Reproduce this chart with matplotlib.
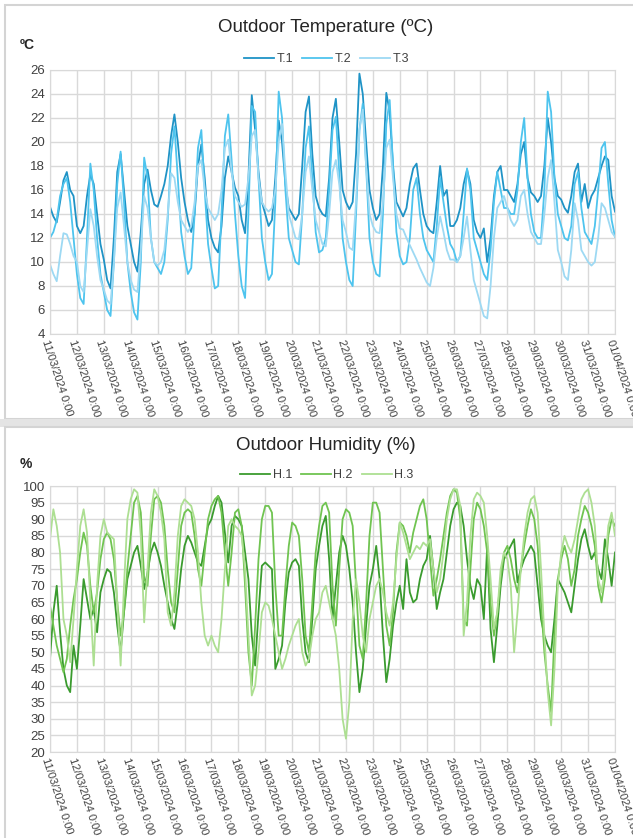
import matplotlib
matplotlib.use("Agg")
import matplotlib.pyplot as plt
import matplotlib.dates as mdates
from matplotlib.patches import Rectangle
from matplotlib.ticker import FuncFormatter
import pandas as pd

plt.rcParams['font.family'] = ['Liberation Sans', 'DejaVu Sans']

# 3-hourly readings, 11/03/2024 0:00 -> 01/04/2024 0:00
times = pd.date_range('2024-03-11 00:00', periods=169, freq='3h')

t1 = [14.6, 13.8, 13.3, 15.0, 16.8, 17.5, 16.0, 15.5,
      13.0, 12.4, 13.0, 15.5, 17.3, 16.5, 14.0, 11.5,
      10.2, 8.5, 7.8, 12.0, 17.5, 19.0, 16.0, 13.0,
      11.5, 10.0, 9.2, 12.5, 16.5, 17.7, 16.0, 14.8,
      14.6, 15.5, 16.5, 18.0, 20.5, 22.3, 20.0, 17.0,
      15.0, 13.5, 12.5, 14.0, 18.0, 19.8, 17.0, 13.5,
      12.0, 11.2, 10.8, 13.0, 17.0, 18.8, 17.5, 16.2,
      15.5, 13.5, 12.4, 17.0, 23.9, 21.0, 17.5, 15.0,
      14.0, 13.0, 13.5, 17.0, 21.8, 20.0, 16.5, 14.5,
      14.0, 13.5, 14.0, 18.0, 22.5, 23.8, 19.0, 15.5,
      14.5, 14.0, 13.8, 17.0, 22.0, 23.6, 20.0, 16.0,
      15.0, 14.4, 15.0, 19.0, 25.7, 24.0, 20.0, 16.0,
      14.5, 13.5, 14.0, 18.0, 24.1, 22.5, 18.0, 15.0,
      14.4, 13.8, 14.5, 16.5, 17.8, 18.2, 16.0, 14.0,
      13.0, 12.6, 12.4, 15.0, 18.0, 15.5, 16.0, 13.0,
      13.0, 13.5, 14.5, 16.5, 17.7, 16.5, 13.5, 12.5,
      12.0, 12.8, 10.0, 12.0, 15.5, 17.5, 18.0, 16.0,
      16.0, 15.5, 15.0, 16.5, 19.0, 20.0, 17.0, 15.8,
      15.5, 15.0, 15.5, 18.0, 22.0, 20.0, 17.0, 15.5,
      15.2, 14.5, 14.1, 15.5, 17.5, 18.2, 15.0, 16.5,
      14.5, 15.5, 16.0, 17.0, 18.0, 18.8, 18.5, 15.5,
      14.2]

t2 = [12.0, 12.5, 13.5, 15.5, 16.5, 17.0, 15.0, 12.0,
      9.0, 7.0, 6.5, 12.0, 18.2, 16.0, 12.0, 9.0,
      7.5, 6.0, 5.5, 10.0, 16.5, 19.2, 15.0, 10.0,
      7.5, 5.8, 5.2, 10.0, 18.7, 17.0, 12.0, 10.0,
      9.5, 9.0, 10.0, 13.5, 19.0, 21.3, 17.0, 12.5,
      10.5, 9.0, 9.5, 14.0, 19.5, 21.0, 16.0, 11.5,
      9.5, 7.8, 8.0, 14.0, 20.5, 22.3, 18.5, 14.0,
      10.5, 8.0, 7.0, 14.0, 23.0, 22.5, 17.0, 12.0,
      10.0, 8.5, 9.0, 15.0, 24.2, 22.0, 16.0, 12.0,
      11.0, 10.0, 9.8, 14.0, 19.5, 21.3, 17.0, 12.5,
      10.8, 11.0, 12.0, 16.0, 21.0, 22.1, 17.5, 12.0,
      10.0, 8.5, 8.0, 14.0, 21.0, 23.2, 18.0, 12.0,
      10.0, 9.0, 8.8, 14.0, 21.5, 23.5, 18.0, 12.5,
      10.5, 9.8, 10.0, 12.0, 16.0, 17.0, 14.0, 12.0,
      11.0, 10.5, 10.0, 13.0, 17.0, 15.0, 13.0, 11.5,
      11.0, 10.0, 10.5, 14.0, 17.8, 16.0, 12.0, 11.0,
      10.0, 9.0, 8.5, 11.0, 15.0, 17.5, 16.0, 14.5,
      14.5, 14.0, 14.0, 16.0, 20.0, 22.0, 17.0, 14.0,
      12.5, 12.0, 12.0, 16.0, 24.2, 22.5, 17.0, 14.0,
      13.0, 12.0, 11.8, 13.0, 16.5, 17.5, 14.5, 12.5,
      12.0, 11.5, 13.0, 16.0, 19.5, 20.0, 16.5, 13.5,
      12.1]

t3 = [9.8, 9.0, 8.4, 10.5, 12.4, 12.3, 11.5, 10.5,
      10.0, 8.0, 7.5, 11.0, 14.4, 13.0, 10.5, 8.5,
      7.7, 6.8, 6.5, 10.0, 14.5, 15.8, 13.0, 10.0,
      8.5, 7.7, 7.5, 11.0, 15.5, 14.5, 12.0, 10.0,
      9.7, 10.0, 11.0, 14.0, 17.4, 17.0, 15.0, 13.5,
      13.0, 12.5, 13.0, 15.0, 18.0, 18.5, 16.0, 14.5,
      14.0, 13.5, 14.0, 16.0, 19.5, 20.2, 17.5, 15.5,
      15.0, 14.6, 14.8, 17.0, 20.5, 21.0, 17.0, 15.0,
      14.5, 14.2, 14.5, 16.0, 20.0, 21.5, 17.5, 14.0,
      13.0, 12.0, 11.9, 14.0, 17.5, 18.8, 16.0, 13.5,
      12.5, 11.5, 11.3, 14.0, 17.5, 18.5, 16.5, 13.5,
      12.5, 11.2, 11.0, 15.0, 21.0, 22.7, 18.0, 14.0,
      13.0, 12.5, 12.4, 15.0, 19.5, 20.2, 17.0, 14.0,
      12.8, 12.7, 12.0, 11.4, 10.8, 10.2, 9.5, 8.9,
      8.3, 8.0, 9.5, 12.0, 13.8, 12.5, 11.0, 10.2,
      10.2, 10.0, 10.5, 12.0, 13.8, 11.0, 8.5, 7.5,
      6.5, 5.5, 5.3, 8.0, 12.0, 14.5, 15.0, 15.5,
      14.5, 13.5, 13.0, 13.5, 15.5, 16.0, 14.0, 12.5,
      12.0, 11.5, 11.5, 14.0, 17.0, 18.5, 15.0, 11.0,
      10.0, 8.8, 8.5, 11.0, 14.9, 13.5, 11.0, 10.5,
      10.0, 9.7, 10.0, 12.0, 14.9, 14.5, 13.5, 12.5,
      12.1]

h1 = [48, 62, 70, 56, 45, 40, 38, 52,
      45, 58, 72, 66, 60, 63, 56, 68,
      72, 75, 74, 68, 58, 50, 62, 72,
      76, 80, 82, 76, 69, 74, 80, 83,
      80, 76, 70, 65, 60, 57, 65, 75,
      82, 85, 83, 80, 77, 76, 82, 88,
      90, 94, 97, 95, 86, 77, 88, 91,
      90, 88, 80, 72, 55, 46, 62, 76,
      77, 76, 75, 45, 48, 52, 65, 74,
      77, 78, 76, 60, 50, 47, 60, 75,
      82, 88, 91, 78, 60, 70, 80, 85,
      82, 75, 65, 50, 38, 45, 58, 70,
      75, 82, 72, 55, 41, 48, 58, 65,
      70, 63, 78, 68, 65, 66, 72, 76,
      78, 85, 75, 63, 68, 72, 80, 88,
      93, 95, 94, 88, 78, 70, 66, 72,
      70, 60, 82, 57, 47, 58, 70, 78,
      80, 82, 84, 71, 75, 78, 80, 82,
      80, 70, 60, 55, 52, 50, 60, 72,
      70, 68, 65, 62, 70, 78, 84, 87,
      82, 78, 80, 75, 72, 84, 78, 70,
      80]

h2 = [64, 58, 52, 48, 44, 48, 58, 66,
      72, 80, 86, 82, 70, 62, 68, 78,
      84, 86, 84, 78, 65, 55, 62, 75,
      85, 95, 97, 92, 72, 70, 85, 96,
      97, 95, 88, 75, 65, 62, 75, 88,
      92, 93, 92, 85, 75, 70, 80, 90,
      94, 96, 97, 92, 80, 70, 80, 92,
      93, 88, 70, 50, 40, 58, 78, 90,
      94, 94, 92, 70, 55, 55, 70, 82,
      89, 88, 85, 72, 55, 50, 65, 80,
      88, 94, 95, 92, 70, 58, 75, 90,
      93, 92, 88, 70, 52, 48, 65, 85,
      95, 95, 92, 75, 58, 52, 62, 80,
      89, 88, 85, 80, 86, 90, 94, 96,
      90, 78, 67, 72, 78, 85, 92, 97,
      99, 98, 90, 60, 58, 75, 90, 95,
      93, 88, 80, 65, 55, 62, 72, 80,
      82, 78, 72, 68, 75, 82, 88, 93,
      90, 82, 65, 50, 40, 32, 55, 72,
      78, 82, 78, 70, 75, 85, 90, 94,
      92, 88, 82, 70, 65, 72, 85, 90,
      88]

h3 = [84, 93, 88, 80, 60, 55, 47, 60,
      75, 88, 93, 86, 65, 46, 70, 85,
      90, 86, 85, 84, 65, 46, 70, 90,
      96, 99, 98, 85, 59, 75, 92, 99,
      97, 92, 84, 62, 58, 68, 85, 94,
      96, 95, 94, 90, 80, 65, 55, 52,
      55, 52, 50, 60, 75, 88, 90, 88,
      87, 85, 75, 55, 37, 40, 50, 62,
      65, 64, 60, 55, 50, 45, 48, 52,
      55, 58, 60, 50, 46, 48, 55, 60,
      62, 68, 70, 65, 60, 55, 45, 30,
      24, 35, 60, 72, 65, 55, 50, 60,
      65, 70, 72, 68, 62, 58, 65, 78,
      89, 86, 82, 78, 80, 82, 81, 83,
      82, 84, 75, 68, 72, 80, 90, 96,
      99, 99, 94, 55, 65, 85, 96, 98,
      97, 95, 85, 72, 57, 62, 75, 80,
      78, 70, 50, 62, 75, 85, 92, 96,
      97, 92, 75, 55, 38, 28, 45, 70,
      80, 85, 82, 80, 84, 90, 96, 98,
      99, 95, 88, 72, 68, 75, 88, 92,
      85]

temp_series = [('T.1', t1, '#1f93c6'), ('T.2', t2, '#4ec4ee'), ('T.3', t3, '#9dd9f3')]
hum_series = [('H.1', h1, '#3a9b2e'), ('H.2', h2, '#70c451'), ('H.3', h3, '#addf92')]

W, H = 633, 838
fig = plt.figure(figsize=(W / 100, H / 100), dpi=100)

# panel frames (behind the axes)
fig.patches.append(Rectangle((5 / W, 1 - 419 / H), 1, 414 / H, transform=fig.transFigure,
                             facecolor='white', edgecolor='#d4d4d4', lw=1.5, zorder=-10))
fig.patches.append(Rectangle((0, 1 - 427 / H), 1, 8 / H, transform=fig.transFigure,
                             facecolor='#e4e4e4', edgecolor='none', zorder=-10))
fig.patches.append(Rectangle((5 / W, -0.01), 1, 1 - 427 / H + 0.01, transform=fig.transFigure,
                             facecolor='white', edgecolor='#d4d4d4', lw=1.5, zorder=-10))

txt = '#404040'
date_fmt = FuncFormatter(lambda v, p: f"{mdates.num2date(v):%d/%m/%Y} 0:00")


def panel(top, bottom, series, yticks, title, unit, title_y, unit_y):
    ax = fig.add_axes([50 / W, 1 - bottom / H, 565 / W, (bottom - top) / H])
    ax.set_facecolor('none')
    for name, vals, col in series:
        ax.plot(times, vals, color=col, lw=1.3, label=name)
    ax.set_xlim(times[0], times[-1])
    ax.set_ylim(yticks[0], yticks[-1])
    ax.set_yticks(yticks)
    ax.xaxis.set_major_locator(mdates.DayLocator())
    ax.xaxis.set_major_formatter(date_fmt)
    ax.grid(True, color='#d9d9d9', lw=1)
    ax.set_axisbelow(True)
    for s in ax.spines.values():
        s.set_color('#d9d9d9')
    ax.tick_params(length=0, colors=txt, labelsize=9.5)
    for lab in ax.get_xticklabels():
        lab.set_rotation(-72)
        lab.set_ha('left')
        lab.set_va('top')
        lab.set_rotation_mode('anchor')
        lab.set_fontsize(8)
    ax.legend(loc='lower center', bbox_to_anchor=(0.49, 0.995), ncol=3, frameon=False,
              fontsize=9, handlelength=2.4, columnspacing=0.7, handletextpad=0.2,
              labelcolor=txt, borderaxespad=0.1)
    fig.text(326 / W, 1 - title_y / H, title, ha='center', va='center', fontsize=13.5, color='#262626')
    fig.text(20 / W, 1 - unit_y / H, unit, ha='left', va='center', fontsize=10, fontweight='bold', color='#262626')
    return ax


panel(70, 334, temp_series, list(range(4, 27, 2)), 'Outdoor Temperature (ºC)', 'ºC', 27, 45)
panel(486, 752, hum_series, list(range(20, 101, 5)), 'Outdoor Humidity (%)', '%', 445, 464)

fig.savefig('out.png', dpi=100)
